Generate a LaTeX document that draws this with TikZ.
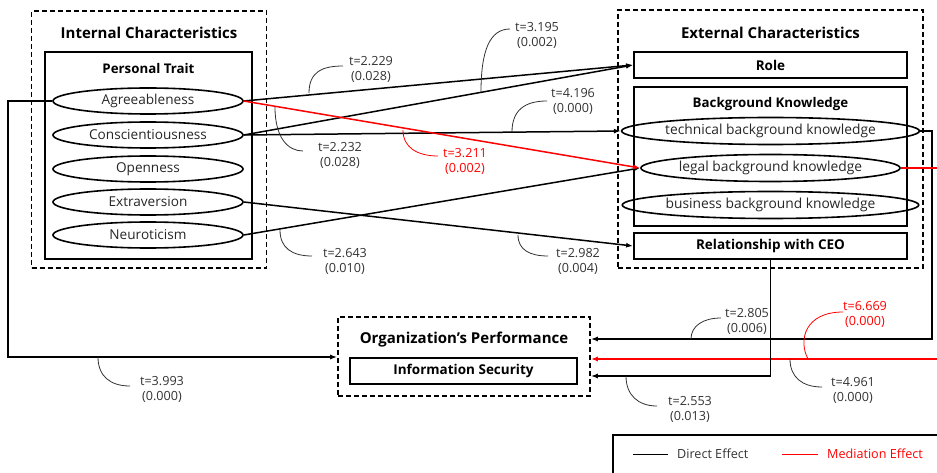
\documentclass[tikz,border=0pt]{standalone}
\usepackage{fontspec}
\setmainfont{Open Sans}
\usetikzlibrary{shapes.geometric,arrows.meta}
\definecolor{lblgray}{RGB}{50,50,50}
\definecolor{medred}{RGB}{255,0,0}
\tikzset{
  dashbox/.style={draw, line width=1.6pt, dash pattern=on 5pt off 3pt},
  solidbox/.style={draw, line width=1.8pt},
  trait/.style={draw, ellipse, line width=1.6pt, minimum width=190pt, minimum height=26pt, inner sep=0pt, text=black!85, font=\fontsize{13.6}{15}\selectfont},
  know/.style={draw, ellipse, line width=1.6pt, minimum width=247pt, minimum height=27pt, inner sep=0pt, text=black!85, font=\fontsize{13.8}{15}\selectfont},
  rbox/.style={draw, line width=1.8pt, minimum width=273pt, minimum height=26pt, inner sep=0pt, font=\bfseries\fontsize{13.5}{15}\selectfont},
  title/.style={font=\bfseries\fontsize{15}{17}\selectfont, inner sep=0pt},
  subtitle/.style={font=\bfseries\fontsize{13.3}{15}\selectfont, inner sep=0pt},
  conn/.style={line width=1.5pt, -{Latex[length=7pt,width=5pt]}},
  medconn/.style={conn, draw=medred},
  lbl/.style={align=center, font=\fontsize{12.6}{15}\selectfont, text=lblgray, inner sep=0pt},
  medlbl/.style={lbl, text=medred},
  leader/.style={line width=0.8pt, draw=lblgray},
  medleader/.style={line width=0.8pt, draw=medred},
}
\begin{document}
\begin{tikzpicture}[x=1pt,y=-1pt]
\useasboundingbox (0,0) rectangle (937,473);
% Internal characteristics
\node[dashbox, minimum width=235pt, minimum height=257pt, inner sep=0pt] (ic) at (149,139.5) {};
\node[title] (ict) at (149,33) {Internal Characteristics};
\node[solidbox, minimum width=207pt, minimum height=207pt, inner sep=0pt] (pt) at (148.5,155.5) {};
\node[subtitle] (ptt) at (148.5,69) {Personal Trait};
\node[trait] (agr) at (148,101) {Agreeableness};
\node[trait] (con) at (148,135) {Conscientiousness};
\node[trait] (ope) at (148,169) {Openness};
\node[trait] (ext) at (148,202) {Extraversion};
\node[trait] (neu) at (148,235) {Neuroticism};
% External characteristics
\node[dashbox, minimum width=305pt, minimum height=258pt, inner sep=0pt] (ec) at (770.5,139) {};
\node[title] (ect) at (770.5,33) {External Characteristics};
\node[rbox] (role) at (770.5,65) {Role};
\node[solidbox, minimum width=273pt, minimum height=139pt, inner sep=0pt] (bk) at (770.5,156.5) {};
\node[subtitle] (bkt) at (770.5,104) {Background Knowledge};
\node[know] (tech) at (770.5,131) {technical background knowledge};
\node[know] (legal) at (770.5,168) {legal background knowledge};
\node[know] (bus) at (770.5,205) {business background knowledge};
\node[rbox] (ceo) at (770.5,246) {Relationship with CEO};
% Organization performance
\node[dashbox, minimum width=252pt, minimum height=79pt, inner sep=0pt] (org) at (464,356.5) {};
\node[title] (orgt) at (464,340) {Organization's Performance};
\node[solidbox, minimum width=227pt, minimum height=26pt, inner sep=0pt, font=\bfseries\fontsize{13.5}{15}\selectfont] (is) at (463.5,371) {Information Security};
% connectors
\draw[conn] (agr.east) -- (role.west);
\draw[conn] (con.east) -- (role.west);
\draw[conn] (con.east) -- (tech.west);
\draw[conn] (neu.east) -- (legal.west);
\draw[conn] (ext.east) -- (ceo.west);
\draw[medconn] (agr.east) -- (legal.west);
\coordinate (j0) at (8,357);
\draw[conn] (agr.west) -| (j0) -- (j0 -| org.west);
\coordinate (j1) at (932,339);
\draw[conn] (tech.east) -| (j1) -- (j1 -| org.east);
\coordinate (j2) at (948,359);
\draw[medconn] (legal.east) -| (j2) -- (j2 -| org.east);
\coordinate (j3) at (0,376);
\draw[conn] (ceo.south) |- (j3 -| org.east);
% labels
\node[lbl] (l1) at (371,69) {t=2.229\\(0.028)};
\draw[leader] (309,93) .. controls (309,72) and (322,66) .. (343,66);
\node[lbl] (l2) at (537,35) {t=3.195\\(0.002)};
\draw[leader] (481,92) .. controls (481,50) and (490,29) .. (510,29);
\node[lbl] (l3) at (340,155) {t=2.232\\(0.028)};
\draw[leader] (275,107) .. controls (275,138) and (288,151) .. (303,151);
\node[lbl] (l4) at (573,101) {t=4.196\\(0.000)};
\draw[leader] (512,132) .. controls (512,110) and (525,101) .. (547,101);
\node[medlbl] (l5) at (465,161) {t=3.211\\(0.002)};
\draw[medleader] (403,130) .. controls (403,148) and (418,156) .. (438,156);
\node[lbl] (l6) at (345,261) {t=2.643\\(0.010)};
\draw[leader] (280,230) .. controls (280,248) and (292,256) .. (312,256);
\node[lbl] (l7) at (578,261) {t=2.982\\(0.004)};
\draw[leader] (518,235) .. controls (518,250) and (530,256) .. (548,256);
\node[lbl] (l8) at (162,389) {t=3.993\\(0.000)};
\draw[leader] (98,357) .. controls (98,376) and (110,386) .. (130,386);
\node[lbl] (l9) at (747,321) {t=2.805\\(0.006)};
\draw[leader] (691,339) .. controls (691,326) and (703,318) .. (721,318);
\node[medlbl] (l10) at (865,314) {t=6.669\\(0.000)};
\draw[medleader] (808,359) .. controls (798,340) and (805,312) .. (843,312);
\node[lbl] (l11) at (853,390) {t=4.961\\(0.000)};
\draw[leader] (790,359) .. controls (790,377) and (802,387) .. (822,387);
\node[lbl] (l12) at (690,409) {t=2.553\\(0.013)};
\draw[leader] (626,376) .. controls (626,395) and (638,406) .. (657,406);
% legend
\node[draw, line width=1.2pt, minimum width=332pt, minimum height=45pt, inner sep=0pt] (leg) at (779,457.5) {};
\coordinate (d1) at (633,454);
\coordinate (d2) at (668,454);
\draw[line width=1pt, draw=black] (d1) -- (d2);
\node[lbl, anchor=west, text=black!80] (dt) at (677,454) {Direct Effect};
\coordinate (m1) at (782,454);
\coordinate (m2) at (818,454);
\draw[line width=1pt, draw=medred] (m1) -- (m2);
\node[lbl, anchor=west, text=medred] (mt) at (827,454) {Mediation Effect};
\end{tikzpicture}
\end{document}
